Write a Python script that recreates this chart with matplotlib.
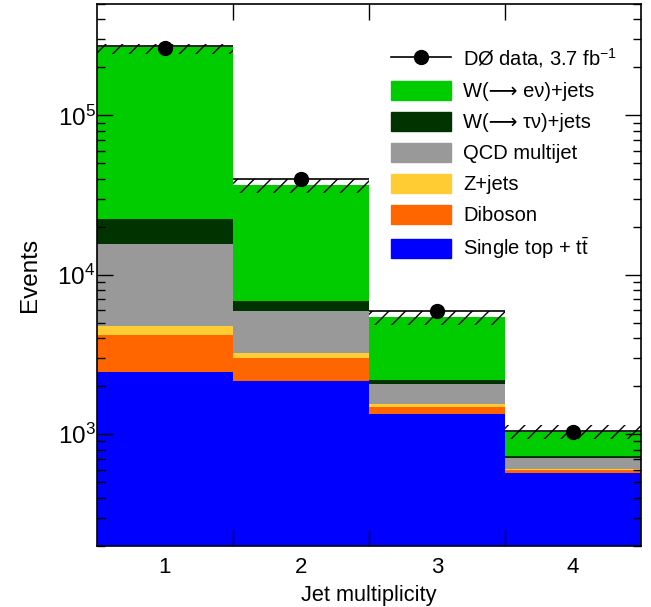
import numpy as np
import matplotlib
matplotlib.use('Agg')
import matplotlib.pyplot as plt
from matplotlib.lines import Line2D
from matplotlib.patches import Patch
from matplotlib.ticker import FixedLocator, LogLocator, NullFormatter

plt.rcParams['font.family'] = ['Liberation Sans', 'DejaVu Sans']
plt.rcParams['mathtext.fontset'] = 'custom'
plt.rcParams['mathtext.rm'] = 'Liberation Sans'
plt.rcParams['mathtext.it'] = 'Liberation Sans'
plt.rcParams['hatch.linewidth'] = 1.0

# jet multiplicity bins
njets = np.array([1, 2, 3, 4])

# stacked backgrounds (events per bin), bottom to top
top_ttbar = [2465, 2160, 1341, 573]
diboson = [1725, 860, 149, 22]
zjets = [590, 225, 52, 12]
qcd = [10915, 2695, 532, 103]
w_taunu = [6800, 900, 104, 16]
w_enu = [244500, 29560, 3266, 303]

# total prediction line and its uncertainty band
mc_total = [274000, 39700, 5940, 1054]
band_lo = [243000, 32400, 4830, 935]
band_hi = [281000, 39700, 5940, 1145]

# data
data = [265000, 39700, 5940, 1038]

fig = plt.figure(figsize=(6.51, 6.07), dpi=100)
ax = fig.add_axes([97/651, 1-545.6/607, (641-97)/651, (545.6-4)/607])

colors = {
    'top': '#0000ff', 'vv': '#ff6600', 'z': '#ffcc33',
    'qcd': '#999999', 'wtau': '#003300', 'we': '#00cc00',
}
layers = [
    (top_ttbar, colors['top']),
    (diboson, colors['vv']),
    (zjets, colors['z']),
    (qcd, colors['qcd']),
    (w_taunu, colors['wtau']),
    (w_enu, colors['we']),
]
bottom = np.zeros(len(njets))
for vals, c in layers:
    vals = np.array(vals, dtype=float)
    ax.bar(njets, vals, width=1.0, bottom=bottom, color=c, edgecolor='none',
           linewidth=0, zorder=1)
    bottom += vals

# uncertainty band (hatched) and total line
lo = np.array(band_lo, dtype=float)
hi = np.array(band_hi, dtype=float)
ax.bar(njets, hi - lo, width=1.0, bottom=lo, color='none', edgecolor='black',
       hatch='//', linewidth=0, zorder=2)
ax.hlines(mc_total, njets - 0.5, njets + 0.5, colors='black', linewidth=1.2, zorder=3)

ax.plot(njets, data, 'o', color='black', markersize=10, zorder=4)

ax.set_yscale('log')
ax.set_ylim(200, 5e5)
ax.set_xlim(0.5, 4.5)

# x: labels at bin centres, ticks at bin edges
ax.xaxis.set_major_locator(FixedLocator([1, 2, 3, 4]))
ax.xaxis.set_minor_locator(FixedLocator([1.5, 2.5, 3.5]))
ax.tick_params(axis='x', which='major', length=0, labelsize=16, pad=8)
ax.tick_params(axis='x', which='minor', direction='in', length=11.5, width=1,
               top=True, bottom=True)

ax.yaxis.set_major_locator(LogLocator(base=10, numticks=10))
ax.yaxis.set_minor_locator(LogLocator(base=10, subs=np.arange(2, 10), numticks=10))
ax.yaxis.set_minor_formatter(NullFormatter())
ax.tick_params(axis='y', which='major', direction='in', length=11.5, width=1,
               left=True, right=True, labelsize=17.5, pad=1)
ax.tick_params(axis='y', which='minor', direction='in', length=5.8, width=1,
               left=True, right=True)

for s in ax.spines.values():
    s.set_linewidth(1.2)

ax.set_xlabel('Jet multiplicity', fontsize=15.7, labelpad=5)
ax.set_ylabel('Events', fontsize=17.5, labelpad=12)

handles = [
    Line2D([], [], color='black', marker='o', markersize=10, linewidth=1.2),
    Patch(color=colors['we']),
    Patch(color=colors['wtau']),
    Patch(color=colors['qcd']),
    Patch(color=colors['z']),
    Patch(color=colors['vv']),
    Patch(color=colors['top']),
]
labels = [
    'D\u00d8 data, 3.7 fb$^{\\mathregular{-1}}$',
    'W(\u27f6 e\u03bd)+jets',
    'W(\u27f6 \u03c4\u03bd)+jets',
    'QCD multijet',
    'Z+jets',
    'Diboson',
    'Single top + t$\\mathregular{\\bar{t}}$',
]
ax.legend(handles, labels, loc='upper left', bbox_to_anchor=(0.540, 0.922),
          frameon=False, fontsize=14.5, handlelength=3.0, handleheight=1.1,
          handletextpad=0.6, labelspacing=0.52, borderpad=0, borderaxespad=0)

fig.savefig('out.png', dpi=100)
